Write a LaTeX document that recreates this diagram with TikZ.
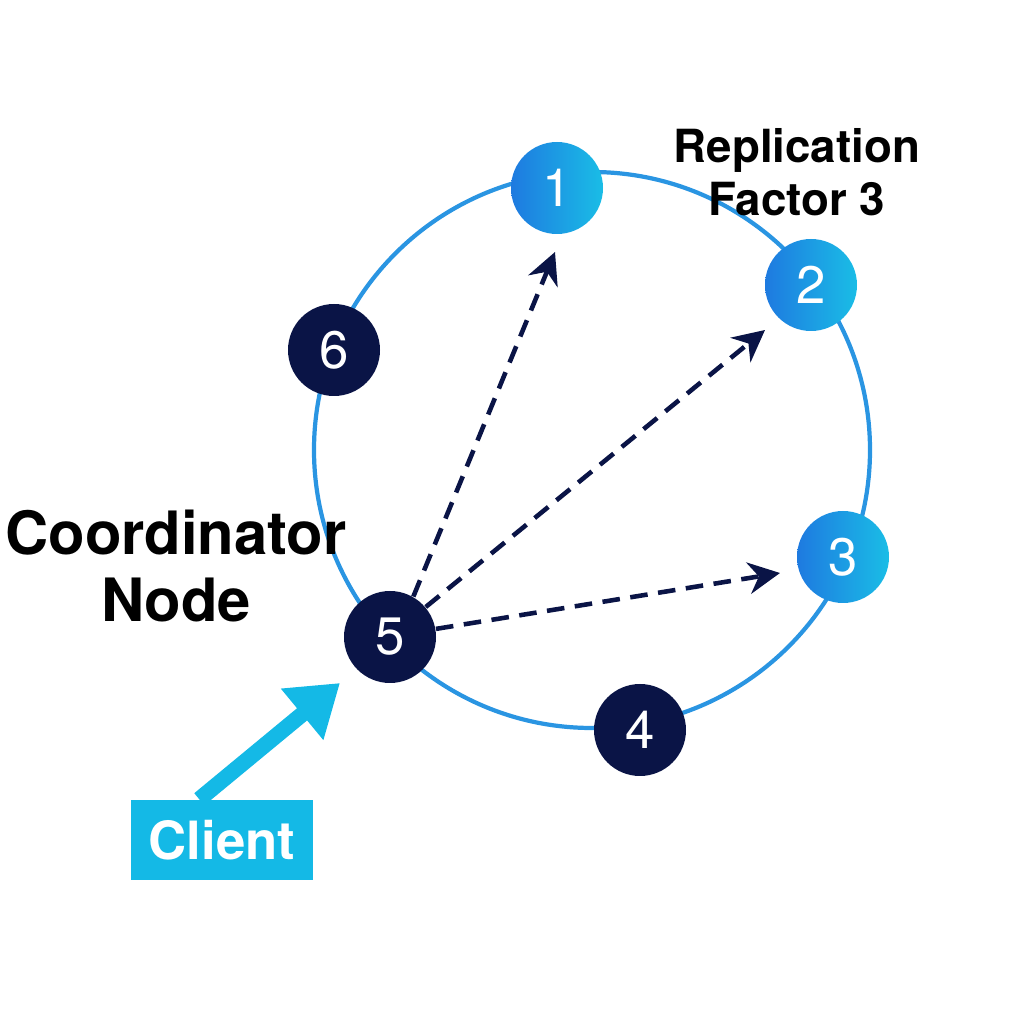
\documentclass[tikz,border=0pt]{standalone}
\usepackage{fontspec}
\setmainfont{TeX Gyre Heros}
\usetikzlibrary{arrows.meta,positioning}
\definecolor{navy}{HTML}{0A1446}
\definecolor{ringblue}{HTML}{2A95E2}
\definecolor{nodeL}{HTML}{1E7AE0}
\definecolor{nodeR}{HTML}{1ABDE6}
\definecolor{clientcyan}{HTML}{14B9E6}
\tikzset{
  ring node/.style={circle, minimum size=0.92cm, inner sep=0pt, text=white, font=\fontsize{15}{15}\selectfont},
  dark node/.style={ring node, fill=navy},
  blue node/.style={ring node, left color=nodeL, right color=nodeR},
  write/.style={navy, line width=1.3pt, dash pattern=on 5pt off 3pt, -{Stealth[length=9pt,width=9pt]}}
}
\begin{document}
\begin{tikzpicture}
  \useasboundingbox (0,0) rectangle (10.24,10.24);
  % ring
  \draw[ringblue, line width=1.2pt] (5.92,5.74) circle (2.78);
  % nodes on the ring
  \node[blue node] (n1) at (5.57,8.36) {1};
  \node[blue node] (n2) at (8.11,7.39) {2};
  \node[blue node] (n3) at (8.43,4.67) {3};
  \node[dark node] (n4) at (6.40,2.94) {4};
  \node[dark node] (n5) at (3.90,3.87) {5};
  \node[dark node] (n6) at (3.34,6.74) {6};
  % targets of the writes
  \coordinate (t1) at (5.55,7.72);
  \coordinate (t2) at (7.65,6.94);
  \coordinate (t3) at (7.80,4.51);
  \draw[write] (n5.60) -- (t1);
  \draw[write] (n5.40) -- (t2);
  \draw[write] (n5.10) -- (t3);
  % labels
  \node[font=\bfseries\fontsize{13}{15}\selectfont, align=center] (rf) at (7.97,8.52) {Replication\\Factor 3};
  \node[font=\fontsize{17}{19}\selectfont\bfseries, align=center] (cn) at (1.76,4.58) {Coordinator\\Node};
  % client
  \node[fill=clientcyan, text=white, font=\bfseries\fontsize{15}{15}\selectfont, minimum width=1.82cm, minimum height=0.8cm] (client) at (2.22,1.84) {Client};
  \coordinate (c5) at (3.40,3.41);
  \draw[clientcyan, line width=4.5pt, -{Triangle[length=14pt,width=18pt]}] (client.north west)++(0.69,0) -- (c5);
\end{tikzpicture}
\end{document}
